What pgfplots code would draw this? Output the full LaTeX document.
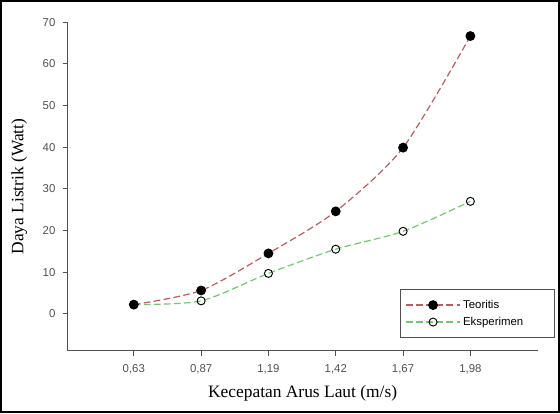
\documentclass[border=0pt]{standalone}
\usepackage{fontspec}
\setmainfont{Liberation Serif}
\newfontfamily\arialfont{Liberation Sans}
\usepackage{pgfplots}
\pgfplotsset{compat=1.18}
\usetikzlibrary{calc}
\definecolor{axgray}{RGB}{80,80,80}
\definecolor{teorred}{RGB}{185,95,95}
\definecolor{ekspgreen}{RGB}{115,200,115}

\begin{document}
\begin{tikzpicture}
\begin{axis}[
    name=ax,
    scale only axis,
    width=351pt, height=245.25pt,
    xmin=-0.985, xmax=6,
    ymin=-8.9, ymax=70,
    axis lines=left,
    axis line style={axgray, line width=0.9pt, -},
    tick style={axgray, line width=0.7pt},
    tick align=outside,
    major tick length=3.5pt,
    xtick={0,1,2,3,4,5},
    xticklabels={{0,63},{0,87},{1,19},{1,42},{1,67},{1,98}},
    ytick={0,10,20,30,40,50,60,70},
    /pgf/number format/assume math mode=true,
    ticklabel style={font=\arialfont\fontsize{8.5}{10}\selectfont, text=axgray},
    xticklabel style={yshift=-3pt},
    yticklabel style={xshift=-2pt},
    xlabel={Kecepatan Arus Laut (m/s)},
    ylabel={Daya Listrik (Watt)},
    label style={font=\fontsize{13}{15}\selectfont},
    xlabel style={at={(rel axis cs:0.5,0)}, anchor=center, yshift=-31.5pt},
    ylabel style={at={(rel axis cs:0,0.5)}, anchor=center, yshift=36pt},
    legend style={at={(rel axis cs:1,0)}, anchor=south east, xshift=12.75pt, yshift=9.75pt,
        draw=axgray, line width=0.8pt, font=\arialfont\fontsize{8.5}{10}\selectfont,
        inner xsep=4pt, inner ysep=5.5pt, row sep=1pt,
        text width=62pt, cells={anchor=west}},
    legend image code/.code={
        \draw[#1, mark=none] (0pt,0pt) -- (40pt,0pt);
        \draw[#1, only marks] plot coordinates {(20pt,0pt)};
    },
    clip=false,
]
\addplot[teorred, line width=0.9pt, dash pattern=on 5pt off 2.5pt, smooth, tension=0.45,
    mark=*, mark size=3.2pt, mark options={solid, fill=black, draw=black}]
    coordinates {(0,2.2) (1,5.6) (2,14.5) (3,24.6) (4,39.9) (5,66.7)};
\addlegendentry{Teoritis}
\addplot[ekspgreen, line width=0.9pt, dash pattern=on 5pt off 2.5pt, smooth, tension=0.45,
    mark=o, mark size=3pt, mark options={solid, fill=white, draw=black, line width=0.7pt}]
    coordinates {(0,2.2) (1,3.1) (2,9.7) (3,15.5) (4,19.8) (5,27.0)};
\addlegendentry{Eksperimen}
\end{axis}
\draw[black, line width=1.8pt] ($(ax.south west)+(-49.5pt,-45.75pt)$) rectangle ($(ax.north east)+(15.75pt,15.75pt)$);
\end{tikzpicture}
\end{document}
